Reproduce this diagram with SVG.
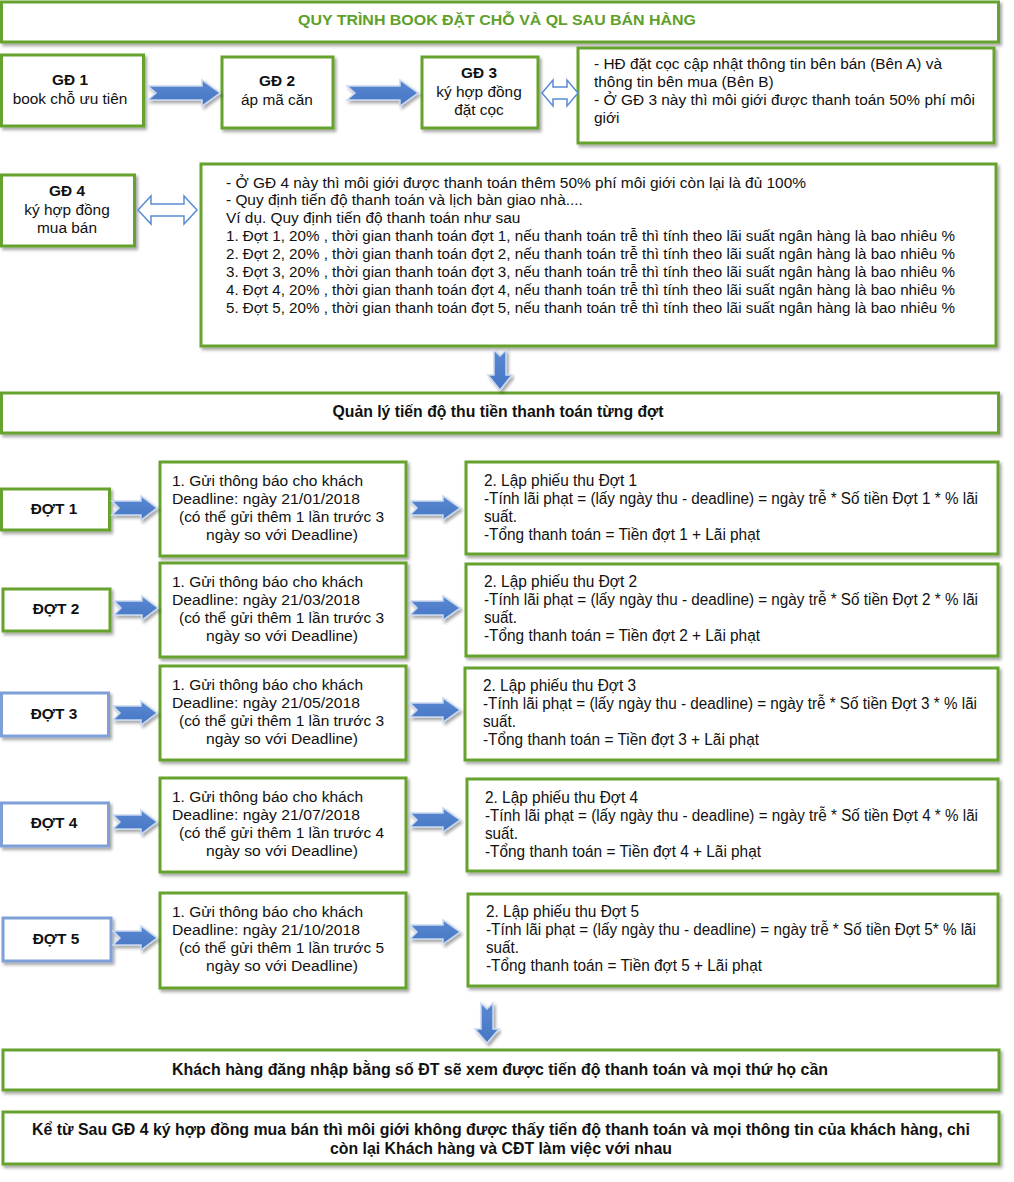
<svg xmlns="http://www.w3.org/2000/svg" width="1014" height="1182" viewBox="0 0 1014 1182">
  <defs>
    <filter id="shadow" x="-5%" y="-10%" width="115%" height="130%">
      <feDropShadow dx="2" dy="2.5" stdDeviation="1.6" flood-color="#000" flood-opacity="0.35"/>
    </filter>
    <linearGradient id="arrowFill" x1="0" y1="0" x2="0" y2="1">
      <stop offset="0" stop-color="#5a88d2"/>
      <stop offset="1" stop-color="#4676c4"/>
    </linearGradient>
  </defs>
  <style>
    .box { fill: #ffffff; stroke: #66a22e; stroke-width: 3; filter: url(#shadow); }
    .boxb { fill: #ffffff; stroke: #7f9fd8; stroke-width: 3; filter: url(#shadow); }
    .t { font-family: "Liberation Sans", Arial, sans-serif; font-size: 15.4px; fill: #111111; }
    .b { font-weight: bold; }
    .c { text-anchor: middle; }
    .title { font-family: "Liberation Sans", Arial, sans-serif; font-size: 15px; font-weight: bold; fill: #5ea12a; text-anchor: middle; }
    .n { font-family: "Liberation Sans Narrow", "Liberation Sans", Arial, sans-serif; font-size: 16px; fill: #111111; }
    .nb { font-family: "Liberation Sans Narrow", "Liberation Sans", Arial, sans-serif; font-size: 16px; font-weight: bold; fill: #111111; text-anchor: middle; }
    .arrow { fill: url(#arrowFill); stroke: #c9d7ef; stroke-width: 1.5; stroke-linejoin: miter; filter: url(#shadow); }
    .dbl { fill: #ffffff; stroke: #5b8bd6; stroke-width: 1.5; }
  </style>

  <!-- header -->
  <g id="title">
    <rect class="box" x="1.5" y="2" width="997" height="40"/>
    <text class="title" x="497" y="25" textLength="398" lengthAdjust="spacingAndGlyphs">QUY TRÌNH BOOK ĐẶT CHỖ VÀ QL SAU BÁN HÀNG</text>
  </g>

  <!-- stage boxes -->
  <g id="gd1">
    <rect class="box" x="1.5" y="55" width="142" height="71"/>
    <text class="t b c" x="70" y="85">GĐ 1</text>
    <text class="t c" x="70" y="104">book chỗ ưu tiên</text>
  </g>
  <g id="gd2">
    <rect class="box" x="222" y="57" width="111" height="71"/>
    <text class="t b c" x="277" y="86">GĐ 2</text>
    <text class="t c" x="277" y="105">áp mã căn</text>
  </g>
  <g id="gd3">
    <rect class="box" x="422" y="57" width="116" height="71"/>
    <text class="t b c" x="479" y="78">GĐ 3</text>
    <text class="t c" x="479" y="97">ký hợp đồng</text>
    <text class="t c" x="479" y="115">đặt cọc</text>
  </g>
  <g id="note-gd3">
    <rect class="box" x="578" y="48" width="416" height="95"/>
    <text class="t" x="594" y="69" textLength="348" lengthAdjust="spacingAndGlyphs">- HĐ đặt cọc cập nhật thông tin bên bán (Bên A) và</text>
    <text class="t" x="594" y="87">thông tin bên mua (Bên B)</text>
    <text class="t" x="594" y="105" textLength="381" lengthAdjust="spacingAndGlyphs">- Ở GĐ 3 này thì môi giới được thanh toán 50% phí môi</text>
    <text class="t" x="594" y="123">giới</text>
  </g>
  <g id="gd4">
    <rect class="box" x="1.5" y="175" width="133" height="71"/>
    <text class="t b c" x="67" y="196">GĐ 4</text>
    <text class="t c" x="67" y="215">ký hợp đồng</text>
    <text class="t c" x="67" y="233">mua bán</text>
  </g>
  <g id="note-gd4">
    <rect class="box" x="201" y="164" width="795" height="182"/>
    <text class="t" x="226" y="188" textLength="580" lengthAdjust="spacingAndGlyphs">- Ở GĐ 4 này thì môi giới được thanh toán thêm 50% phí môi giới còn lại là đủ 100%</text>
    <text class="t" x="226" y="205">- Quy định tiến độ thanh toán và lịch bàn giao nhà....</text>
    <text class="t" x="226" y="223">Ví dụ. Quy định tiến độ thanh toán như sau</text>
    <text class="t" x="226" y="241" textLength="729" lengthAdjust="spacingAndGlyphs">1. Đợt 1, 20% , thời gian thanh toán đợt 1, nếu thanh toán trễ thì tính theo lãi suất ngân hàng là bao nhiêu %</text>
    <text class="t" x="226" y="259" textLength="729" lengthAdjust="spacingAndGlyphs">2. Đợt 2, 20% , thời gian thanh toán đợt 2, nếu thanh toán trễ thì tính theo lãi suất ngân hàng là bao nhiêu %</text>
    <text class="t" x="226" y="277" textLength="729" lengthAdjust="spacingAndGlyphs">3. Đợt 3, 20% , thời gian thanh toán đợt 3, nếu thanh toán trễ thì tính theo lãi suất ngân hàng là bao nhiêu %</text>
    <text class="t" x="226" y="295" textLength="729" lengthAdjust="spacingAndGlyphs">4. Đợt 4, 20% , thời gian thanh toán đợt 4, nếu thanh toán trễ thì tính theo lãi suất ngân hàng là bao nhiêu %</text>
    <text class="t" x="226" y="313" textLength="729" lengthAdjust="spacingAndGlyphs">5. Đợt 5, 20% , thời gian thanh toán đợt 5, nếu thanh toán trễ thì tính theo lãi suất ngân hàng là bao nhiêu %</text>
  </g>

  <g id="manage">
    <rect class="box" x="1.5" y="393" width="997" height="40"/>
    <text class="nb" x="498" y="417" textLength="331" lengthAdjust="spacingAndGlyphs">Quản lý tiến độ thu tiền thanh toán từng đợt</text>
  </g>

  <!-- installment rows -->
  <g id="dot1">
    <rect class="box" x="1.5" y="489" width="108" height="41"/>
    <text class="t b c" x="54" y="514">ĐỢT 1</text>
  </g>
  <g id="notify1">
    <rect class="box" x="160" y="462" width="246" height="94"/>
    <text class="t" x="172" y="486" textLength="191" lengthAdjust="spacingAndGlyphs">1. Gửi thông báo cho khách</text>
    <text class="t" x="172" y="504" textLength="188" lengthAdjust="spacingAndGlyphs">Deadline: ngày 21/01/2018</text>
    <text class="t" x="179" y="522" textLength="205" lengthAdjust="spacingAndGlyphs">(có thể gửi thêm 1 lần trước 3</text>
    <text class="t" x="206" y="540" textLength="152" lengthAdjust="spacingAndGlyphs">ngày so với Deadline)</text>
  </g>
  <g id="receipt1">
    <rect class="box" x="466" y="462" width="532" height="92"/>
    <text class="n" x="484" y="486" textLength="153" lengthAdjust="spacingAndGlyphs">2. Lập phiếu thu Đợt 1</text>
    <text class="n" x="484" y="504" textLength="494" lengthAdjust="spacingAndGlyphs">-Tính lãi phạt = (lấy ngày thu - deadline) = ngày trễ * Số tiền Đợt 1 * % lãi</text>
    <text class="n" x="484" y="522" textLength="33" lengthAdjust="spacingAndGlyphs">suất.</text>
    <text class="n" x="484" y="540" textLength="276" lengthAdjust="spacingAndGlyphs">-Tổng thanh toán = Tiền đợt 1 + Lãi phạt</text>
  </g>

  <g id="dot2">
    <rect class="box" x="3" y="589" width="107" height="42"/>
    <text class="t b c" x="56" y="614">ĐỢT 2</text>
  </g>
  <g id="notify2">
    <rect class="box" x="160" y="563" width="246" height="94"/>
    <text class="t" x="172" y="587" textLength="191" lengthAdjust="spacingAndGlyphs">1. Gửi thông báo cho khách</text>
    <text class="t" x="172" y="605" textLength="188" lengthAdjust="spacingAndGlyphs">Deadline: ngày 21/03/2018</text>
    <text class="t" x="179" y="623" textLength="205" lengthAdjust="spacingAndGlyphs">(có thể gửi thêm 1 lần trước 3</text>
    <text class="t" x="206" y="641" textLength="152" lengthAdjust="spacingAndGlyphs">ngày so với Deadline)</text>
  </g>
  <g id="receipt2">
    <rect class="box" x="466" y="564" width="532" height="92"/>
    <text class="n" x="484" y="587" textLength="153" lengthAdjust="spacingAndGlyphs">2. Lập phiếu thu Đợt 2</text>
    <text class="n" x="484" y="605" textLength="494" lengthAdjust="spacingAndGlyphs">-Tính lãi phạt = (lấy ngày thu - deadline) = ngày trễ * Số tiền Đợt 2 * % lãi</text>
    <text class="n" x="484" y="623" textLength="33" lengthAdjust="spacingAndGlyphs">suất.</text>
    <text class="n" x="484" y="641" textLength="276" lengthAdjust="spacingAndGlyphs">-Tổng thanh toán = Tiền đợt 2 + Lãi phạt</text>
  </g>

  <g id="dot3">
    <rect class="boxb" x="1.5" y="693" width="107" height="43"/>
    <text class="t b c" x="54" y="719">ĐỢT 3</text>
  </g>
  <g id="notify3">
    <rect class="box" x="160" y="666" width="246" height="94"/>
    <text class="t" x="172" y="690" textLength="191" lengthAdjust="spacingAndGlyphs">1. Gửi thông báo cho khách</text>
    <text class="t" x="172" y="708" textLength="188" lengthAdjust="spacingAndGlyphs">Deadline: ngày 21/05/2018</text>
    <text class="t" x="179" y="726" textLength="205" lengthAdjust="spacingAndGlyphs">(có thể gửi thêm 1 lần trước 3</text>
    <text class="t" x="206" y="744" textLength="152" lengthAdjust="spacingAndGlyphs">ngày so với Deadline)</text>
  </g>
  <g id="receipt3">
    <rect class="box" x="465" y="668" width="533" height="92"/>
    <text class="n" x="483" y="691" textLength="153" lengthAdjust="spacingAndGlyphs">2. Lập phiếu thu Đợt 3</text>
    <text class="n" x="483" y="709" textLength="494" lengthAdjust="spacingAndGlyphs">-Tính lãi phạt = (lấy ngày thu - deadline) = ngày trễ * Số tiền Đợt 3 * % lãi</text>
    <text class="n" x="483" y="727" textLength="33" lengthAdjust="spacingAndGlyphs">suất.</text>
    <text class="n" x="483" y="745" textLength="276" lengthAdjust="spacingAndGlyphs">-Tổng thanh toán = Tiền đợt 3 + Lãi phạt</text>
  </g>

  <g id="dot4">
    <rect class="boxb" x="1.5" y="803" width="107" height="43"/>
    <text class="t b c" x="54" y="828">ĐỢT 4</text>
  </g>
  <g id="notify4">
    <rect class="box" x="160" y="778" width="246" height="94"/>
    <text class="t" x="172" y="802" textLength="191" lengthAdjust="spacingAndGlyphs">1. Gửi thông báo cho khách</text>
    <text class="t" x="172" y="820" textLength="188" lengthAdjust="spacingAndGlyphs">Deadline: ngày 21/07/2018</text>
    <text class="t" x="179" y="838" textLength="205" lengthAdjust="spacingAndGlyphs">(có thể gửi thêm 1 lần trước 4</text>
    <text class="t" x="206" y="856" textLength="152" lengthAdjust="spacingAndGlyphs">ngày so với Deadline)</text>
  </g>
  <g id="receipt4">
    <rect class="box" x="467" y="779" width="531" height="92"/>
    <text class="n" x="485" y="803" textLength="153" lengthAdjust="spacingAndGlyphs">2. Lập phiếu thu Đợt 4</text>
    <text class="n" x="485" y="821" textLength="493" lengthAdjust="spacingAndGlyphs">-Tính lãi phạt = (lấy ngày thu - deadline) = ngày trễ * Số tiền Đợt 4 * % lãi</text>
    <text class="n" x="485" y="839" textLength="33" lengthAdjust="spacingAndGlyphs">suất.</text>
    <text class="n" x="485" y="857" textLength="276" lengthAdjust="spacingAndGlyphs">-Tổng thanh toán = Tiền đợt 4 + Lãi phạt</text>
  </g>

  <g id="dot5">
    <rect class="boxb" x="3" y="918" width="108" height="43"/>
    <text class="t b c" x="56" y="944">ĐỢT 5</text>
  </g>
  <g id="notify5">
    <rect class="box" x="160" y="893" width="246" height="95"/>
    <text class="t" x="172" y="917" textLength="191" lengthAdjust="spacingAndGlyphs">1. Gửi thông báo cho khách</text>
    <text class="t" x="172" y="935" textLength="188" lengthAdjust="spacingAndGlyphs">Deadline: ngày 21/10/2018</text>
    <text class="t" x="179" y="953" textLength="205" lengthAdjust="spacingAndGlyphs">(có thể gửi thêm 1 lần trước 5</text>
    <text class="t" x="206" y="971" textLength="152" lengthAdjust="spacingAndGlyphs">ngày so với Deadline)</text>
  </g>
  <g id="receipt5">
    <rect class="box" x="468" y="894" width="530" height="92"/>
    <text class="n" x="486" y="917" textLength="153" lengthAdjust="spacingAndGlyphs">2. Lập phiếu thu Đợt 5</text>
    <text class="n" x="486" y="935" textLength="490" lengthAdjust="spacingAndGlyphs">-Tính lãi phạt = (lấy ngày thu - deadline) = ngày trễ * Số tiền Đợt 5* % lãi</text>
    <text class="n" x="486" y="953" textLength="33" lengthAdjust="spacingAndGlyphs">suất.</text>
    <text class="n" x="486" y="971" textLength="276" lengthAdjust="spacingAndGlyphs">-Tổng thanh toán = Tiền đợt 5 + Lãi phạt</text>
  </g>

  <!-- closing notes -->
  <g id="customer">
    <rect class="box" x="3" y="1050" width="996" height="40"/>
    <text class="nb" x="500" y="1075" textLength="656" lengthAdjust="spacingAndGlyphs">Khách hàng đăng nhập bằng số ĐT sẽ xem được tiến độ thanh toán và mọi thứ họ cần</text>
  </g>
  <g id="broker-note">
    <rect class="box" x="3" y="1112" width="996" height="52"/>
    <text class="nb" x="501" y="1135" textLength="938" lengthAdjust="spacingAndGlyphs">Kể từ Sau GĐ 4 ký hợp đồng mua bán thì môi giới không được thấy tiến độ thanh toán và mọi thông tin của khách hàng, chỉ</text>
    <text class="nb" x="501" y="1154" textLength="342" lengthAdjust="spacingAndGlyphs">còn lại Khách hàng và CĐT làm việc với nhau</text>
  </g>

  <!-- connectors -->
  <g id="connectors">
    <!-- stage flow -->
    <polygon class="arrow" points="148,86 202,86 202,80 220,93 202,106 202,100 148,100 156,93"/>
    <polygon class="arrow" points="347,86 400,86 400,80 418,93 400,106 400,100 347,100 355,93"/>
    <polygon class="dbl" points="542,93 553,80 553,87 567,87 567,80 578,93 567,106 567,99 553,99 553,106"/>
    <polygon class="dbl" points="138,210 151,196 151,204 184,204 184,196 197,210 184,224 184,216 151,216 151,224"/>
    <polygon class="arrow" points="494,350 500,356 506,350 506,375 512,375 500,390 488,375 494,375"/>

    <!-- row 1 -->
    <polygon class="arrow" points="112,501 141,501 141,496 157,508 141,520 141,515 112,515 119,508"/>
    <polygon class="arrow" points="410,501 443,501 443,496 460,508 443,520 443,515 410,515 417,508"/>
    <!-- row 2 -->
    <polygon class="arrow" points="114,601 142,601 142,596 158,608 142,620 142,615 114,615 121,608"/>
    <polygon class="arrow" points="410,601 443,601 443,596 460,608 443,620 443,615 410,615 417,608"/>
    <!-- row 3 -->
    <polygon class="arrow" points="113,706 141,706 141,701 157,713 141,725 141,720 113,720 120,713"/>
    <polygon class="arrow" points="410,703 443,703 443,698 460,710 443,722 443,717 410,717 417,710"/>
    <!-- row 4 -->
    <polygon class="arrow" points="113,815 141,815 141,810 157,822 141,834 141,829 113,829 120,822"/>
    <polygon class="arrow" points="410,813 443,813 443,808 460,820 443,832 443,827 410,827 417,820"/>
    <!-- row 5 -->
    <polygon class="arrow" points="113,931 141,931 141,926 157,938 141,950 141,945 113,945 120,938"/>
    <polygon class="arrow" points="410,925 443,925 443,920 460,932 443,944 443,939 410,939 417,932"/>

    <polygon class="arrow" points="481,1003 487,1009 493,1003 493,1029 499,1029 487,1043 475,1029 481,1029"/>
  </g>
</svg>
